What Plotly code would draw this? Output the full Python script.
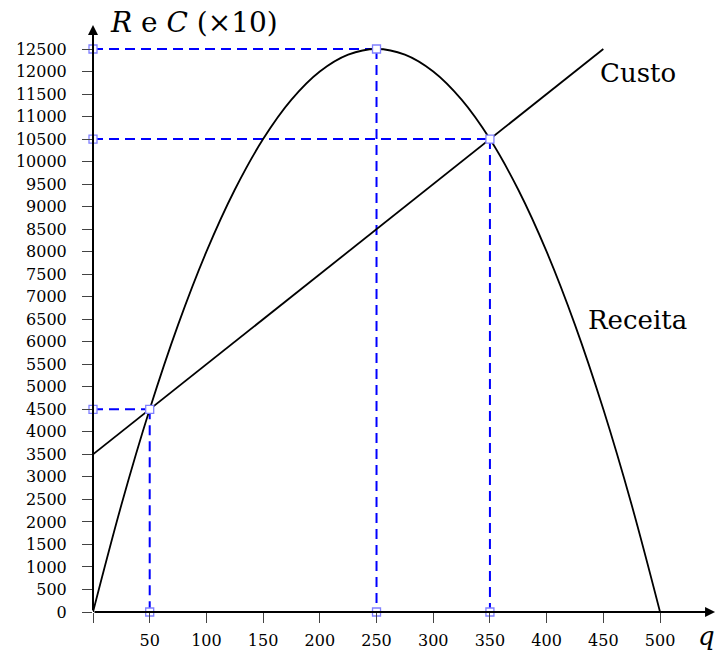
import plotly.graph_objects as go

# Data
q_receita = [0, 25, 50, 75, 100, 125, 150, 175, 200, 225, 250, 275, 300, 325, 350, 375, 400, 425, 450, 475, 500]
receita = [0, 2375, 4500, 6375, 8000, 9375, 10500, 11375, 12000, 12375, 12500, 12375, 12000, 11375, 10500, 9375, 8000, 6375, 4500, 2375, 0]
q_custo = [0, 50, 250, 350, 450]
custo = [3500, 4500, 8500, 10500, 12500]

# Highlighted points (q, value)
guide_q = [50, 250, 350]
guide_v = [4500, 12500, 10500]

x_ticks = [0, 50, 100, 150, 200, 250, 300, 350, 400, 450, 500]
x_ticktext = ["", "50", "100", "150", "200", "250", "300", "350", "400", "450", "500"]
y_ticks = list(range(0, 12501, 500))
y_ticktext = [str(v) for v in y_ticks]

FONT = "DejaVu Serif"
BLUE = "#0000ff"

fig = go.Figure()

# dashed guide lines
for qv, vv in zip(guide_q, guide_v):
    fig.add_trace(go.Scatter(x=[0, qv], y=[vv, vv], mode="lines",
                             line=dict(color=BLUE, width=2, dash="10px,6px"),
                             hoverinfo="skip", showlegend=False))
    fig.add_trace(go.Scatter(x=[qv, qv], y=[vv, 0], mode="lines",
                             line=dict(color=BLUE, width=2, dash="10px,6px"),
                             hoverinfo="skip", showlegend=False))

# curves
fig.add_trace(go.Scatter(x=q_receita, y=receita, mode="lines",
                         line=dict(color="black", width=1.8, shape="spline"),
                         showlegend=False))
fig.add_trace(go.Scatter(x=q_custo, y=custo, mode="lines",
                         line=dict(color="black", width=1.8),
                         showlegend=False))

# markers
mx, my = [], []
for qv, vv in zip(guide_q, guide_v):
    mx += [0, qv, qv]
    my += [vv, vv, 0]
fig.add_trace(go.Scatter(x=mx, y=my, mode="markers",
                         marker=dict(symbol="square", size=8, color="white",
                                     line=dict(color="#8080ff", width=1.3)),
                         cliponaxis=False, showlegend=False))

X_MAX = 551.1
Y_MAX = 13588

fig.update_xaxes(range=[0, X_MAX], tickvals=x_ticks, ticktext=x_ticktext,
                 ticks="outside", ticklen=10, tickwidth=1, tickcolor="#444",
                 ticklabelstandoff=4,
                 showgrid=False, zeroline=False, showline=False, automargin=False,
                 tickfont=dict(family=FONT, size=16, color="black"))
fig.update_yaxes(range=[0, Y_MAX], tickvals=y_ticks, ticktext=y_ticktext,
                 ticks="outside", ticklen=10, tickwidth=1, tickcolor="#444",
                 ticklabelstandoff=12,
                 showgrid=False, zeroline=False, showline=False, automargin=False,
                 tickfont=dict(family=FONT, size=16, color="black"))

annotations = [
    # axes with arrows
    dict(x=548.5, y=0, ax=0, ay=0, xref="x", yref="y", axref="x", ayref="y",
         text="", showarrow=True, arrowhead=2, arrowsize=1, arrowwidth=2, arrowcolor="black"),
    dict(x=0, y=13033, ax=0, ay=0, xref="x", yref="y", axref="x", ayref="y",
         text="", showarrow=True, arrowhead=2, arrowsize=1, arrowwidth=2, arrowcolor="black"),
    dict(x=13.2, y=13080, xref="x", yref="y", xanchor="left", yanchor="middle",
         text="<i>R</i> e <i>C</i> (×10)", showarrow=False,
         font=dict(family=FONT, size=28, color="black")),
    dict(x=445.3, y=11967, xref="x", yref="y", xanchor="left", yanchor="middle",
         text="Custo", showarrow=False, font=dict(family=FONT, size=26, color="black")),
    dict(x=434.7, y=6483, xref="x", yref="y", xanchor="left", yanchor="middle",
         text="Receita", showarrow=False, font=dict(family=FONT, size=26, color="black")),
    dict(x=0.999, y=-0.04, xref="paper", yref="paper", xanchor="right", yanchor="middle",
         text="<i>q</i>", showarrow=False, font=dict(family=FONT, size=26, color="black")),
]

fig.update_layout(
    width=718, height=651,
    margin=dict(l=93, r=0, t=0, b=39),
    plot_bgcolor="white", paper_bgcolor="white",
    annotations=annotations,
    showlegend=False,
)

fig.write_html("out.html", config={"displayModeBar": False},
               post_script="document.body.style.margin='0';document.body.style.overflow='hidden';")
